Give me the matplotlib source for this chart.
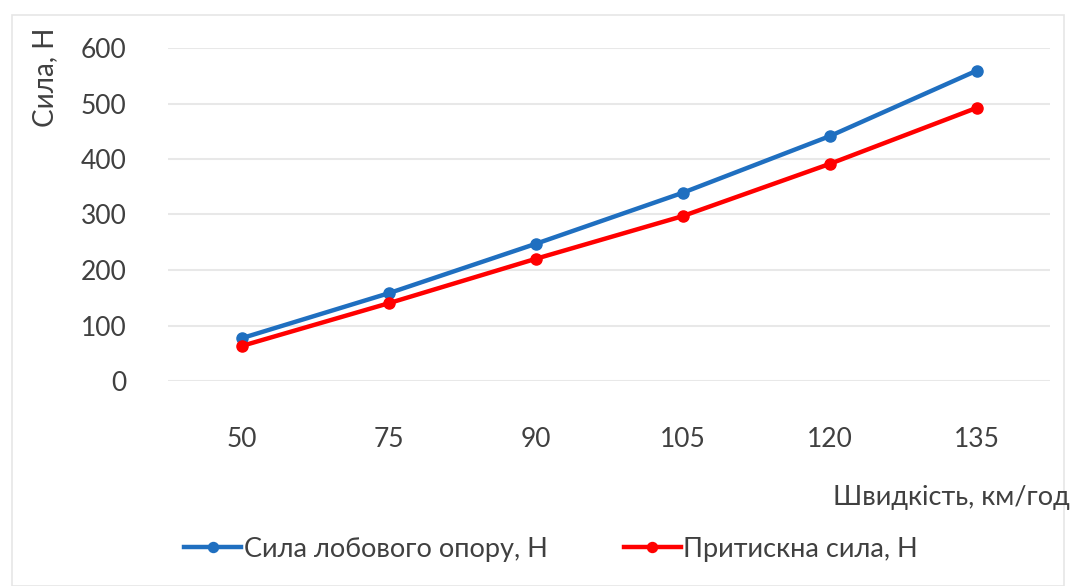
import numpy as np
import matplotlib.pyplot as plt
from matplotlib.patches import Rectangle

speeds = ['50', '75', '90', '105', '120', '135']
drag_force = [77, 158, 247, 339, 441, 559]
downforce = [63, 140, 220, 297, 391, 492]

text_col = '#404040'
plt.rcParams['font.family'] = ['Lato', 'DejaVu Sans']

W, H = 1076, 586
fig = plt.figure(figsize=(W / 100, H / 100), dpi=100)
fig.patches.append(Rectangle((12 / W, 0.0), 1 - 24 / W, 1 - 15 / H,
                             transform=fig.transFigure, fill=False,
                             edgecolor='#e6e6e6', lw=1.2))

ax = fig.add_axes([168 / W, 1 - 381 / H, (1050 - 168) / W, (381 - 48) / H])
x = np.arange(len(speeds))

ax.plot(x, drag_force, color='#1f6fc0', lw=3.2, marker='o', ms=8,
        label='Сила лобового опору, Н', zorder=3)
ax.plot(x, downforce, color='#ff0000', lw=3.2, marker='o', ms=8,
        label='Притискна сила, Н', zorder=3)

ax.set_xlim(-0.5, len(speeds) - 0.5)
ax.set_ylim(0, 600)
ax.set_yticks(range(0, 601, 100))
ax.set_xticks(x, speeds)
ax.grid(axis='y', color='#e8e8e8', lw=1.5)
ax.set_axisbelow(True)
for s in ax.spines.values():
    s.set_visible(False)
ax.tick_params(length=0, labelsize=19, labelcolor=text_col)
ax.tick_params(axis='x', pad=33)
ax.tick_params(axis='y', pad=30)

fig.text(45 / W, 1 - 28 / H, 'Сила, Н', rotation=90, ha='center', va='top',
         fontsize=20, color=text_col)
fig.text(1070 / W, 1 - 497 / H, 'Швидкість, км/год', ha='right', va='center',
         fontsize=19.5, color=text_col)

fig.legend(loc='center left', bbox_to_anchor=(160 / W, 1 - 549 / H), ncol=2,
           frameon=False, fontsize=19.5, handlelength=2.1, handletextpad=0.1,
           columnspacing=2.8, labelcolor=text_col, markerscale=0.9)

fig.savefig('out.png', dpi=100, facecolor='white')
